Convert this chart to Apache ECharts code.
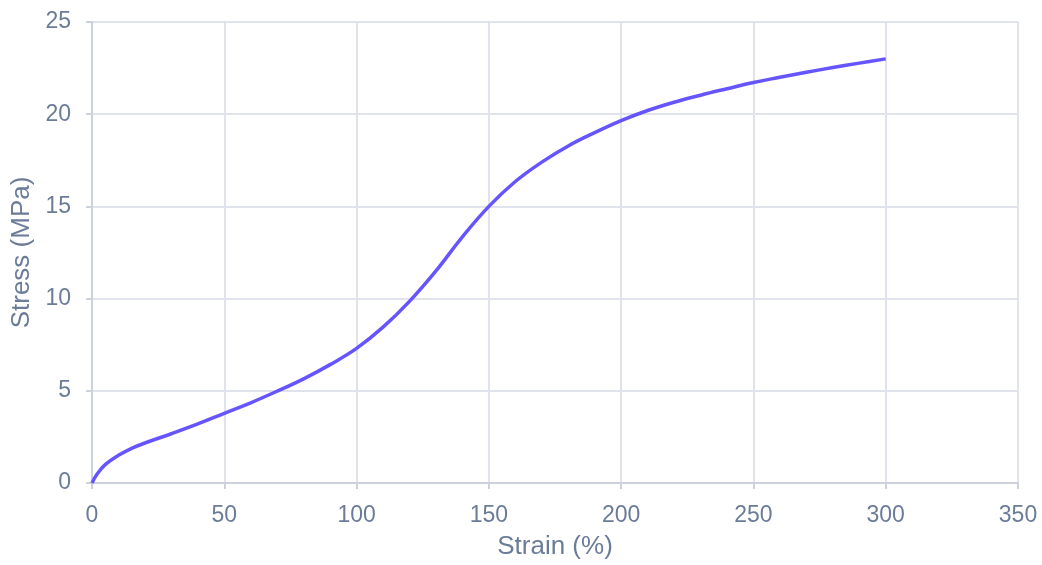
<!DOCTYPE html>
<html><head><meta charset="utf-8">
<script src="https://cdn.jsdelivr.net/npm/echarts@6/dist/echarts.min.js"></script>
<style>html,body{margin:0;padding:0;background:#fff}#c{width:1042px;height:565px}</style>
</head><body><div id="c"></div>
<script>
const strain = [0,2,5,10,15,20,30,40,50,60,70,80,90,100,110,120,130,140,150,160,170,180,190,200,210,220,230,240,250,260,270,280,290,300];
const stress = [0,0.5,1.0,1.5,1.88,2.17,2.67,3.2,3.78,4.35,4.98,5.65,6.42,7.3,8.45,9.85,11.5,13.35,15.0,16.35,17.4,18.28,19.0,19.65,20.2,20.65,21.03,21.38,21.72,22.0,22.27,22.53,22.77,23.0];
const xName = 'Strain (%)';
const yName = 'Stress (MPa)';

const txt = '#6b7c99';
const font = 'Liberation Sans, Arial, sans-serif';
const chart = echarts.init(document.getElementById('c'), null, {renderer:'canvas'});
chart.setOption({
  animation:false,
  grid:{left:92,right:24,top:22,bottom:80,containLabel:false},
  xAxis:{type:'value',min:0,max:350,interval:50,name:xName,nameLocation:'middle',nameGap:51,
    nameTextStyle:{color:txt,fontSize:26,fontFamily:font},
    axisLine:{show:true,lineStyle:{color:'#ccd1db',width:2}},
    axisTick:{show:true,length:6,lineStyle:{color:'#ccd1db',width:2}},
    axisLabel:{color:txt,fontSize:23,fontFamily:font,margin:21},
    splitLine:{show:true,lineStyle:{color:'#e0e3eb',width:2}}},
  yAxis:{type:'value',min:0,max:25,interval:5,name:yName,nameLocation:'middle',nameGap:57,
    nameTextStyle:{color:txt,fontSize:26,fontFamily:font},
    axisLine:{show:true,lineStyle:{color:'#ccd1db',width:2}},
    axisTick:{show:true,length:6,lineStyle:{color:'#ccd1db',width:2}},
    axisLabel:{color:txt,fontSize:23,fontFamily:font,margin:21},
    splitLine:{show:true,lineStyle:{color:'#e0e3eb',width:2}}},
  series:[{type:'line',data:strain.map((x,i)=>[x,stress[i]]),smooth:0.4,showSymbol:false,
    lineStyle:{color:'#6655ff',width:3.5}}]
});
</script></body></html>
